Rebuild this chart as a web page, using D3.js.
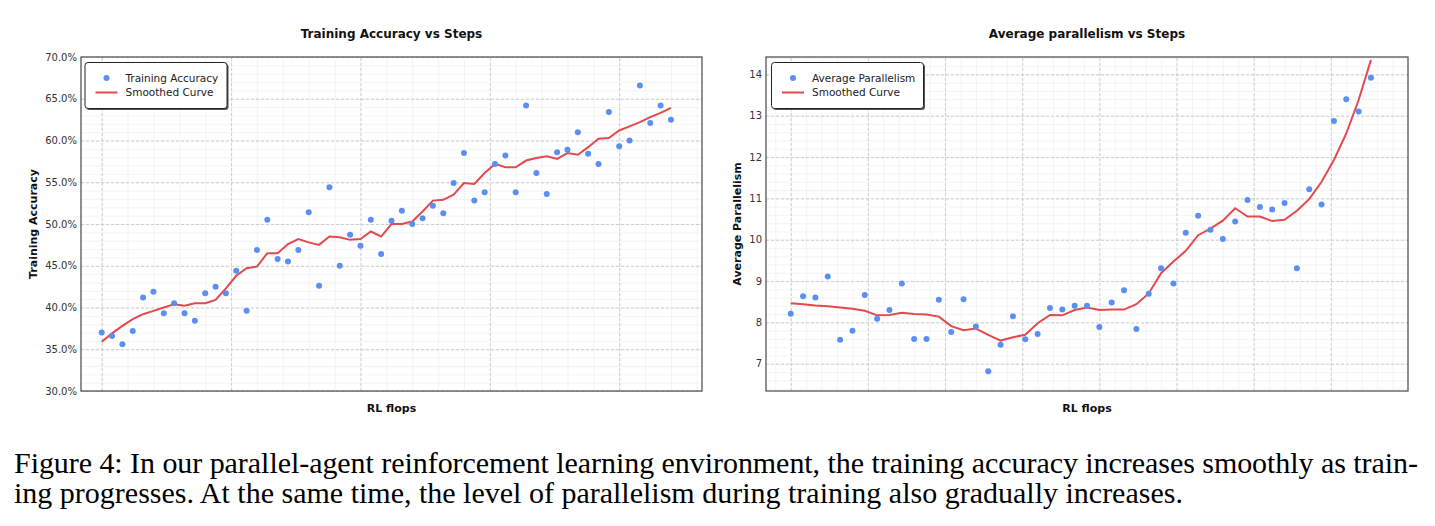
<!DOCTYPE html>
<html lang="en">
  <head>
    <meta charset="utf-8" />
    <title>Training Accuracy / Average parallelism vs Steps</title>
    <script src="https://d3js.org/d3.v7.min.js"></script>
    <style>
      body { margin: 0; background: #fff; }
      svg text { font-family: "DejaVu Sans", sans-serif; }
    </style>
  </head>
  <body>
    <div id="chart"></div>
  </body>
  <script>
    // values
    var accuracy = [37.0, 36.6, 35.6, 37.2, 41.2, 41.9, 39.3, 40.5, 39.3, 38.4,
                    41.7, 42.5, 41.7, 44.4, 39.6, 46.9, 50.5, 45.8, 45.5, 46.9,
                    51.4, 42.6, 54.4, 45.0, 48.7, 47.4, 50.5, 46.4, 50.4, 51.6,
                    50.0, 50.7, 52.2, 51.3, 54.9, 58.5, 52.8, 53.8, 57.2, 58.2,
                    53.8, 64.2, 56.1, 53.6, 58.6, 58.9, 61.0, 58.4, 57.2, 63.4,
                    59.3, 60.0, 66.6, 62.1, 64.2, 62.5];
    var accuracySmooth = [35.9, 36.9, 37.8, 38.6, 39.2, 39.6, 40.0, 40.4, 40.2, 40.5,
                          40.5, 40.9, 42.3, 43.8, 44.7, 44.9, 46.5, 46.5, 47.6, 48.2,
                          47.8, 47.5, 48.5, 48.4, 48.1, 48.2, 49.1, 48.5, 50.0, 50.0,
                          50.3, 51.5, 52.8, 52.9, 53.5, 54.9, 54.8, 56.1, 57.2, 56.8,
                          56.8, 57.6, 57.9, 58.1, 57.8, 58.5, 58.3, 59.2, 60.2, 60.3,
                          61.2, 61.7, 62.2, 62.8, 63.3, 63.9];
    var parallelism = [8.21, 8.63, 8.60, 9.11, 7.58, 7.80, 8.66, 8.09, 8.30, 8.94,
                       7.60, 7.60, 8.55, 7.77, 8.56, 7.90, 6.82, 7.46, 8.15, 7.59,
                       7.72, 8.35, 8.31, 8.40, 8.40, 7.89, 8.48, 8.78, 7.84, 8.69,
                       9.31, 8.94, 10.17, 10.58, 10.24, 10.02, 10.44, 10.96, 10.79, 10.73,
                       10.89, 9.31, 11.22, 10.85, 12.87, 13.40, 13.10, 13.92];
    var parallelismSmooth = [8.46, 8.44, 8.41, 8.39, 8.36, 8.33, 8.28, 8.17, 8.18, 8.23,
                             8.20, 8.19, 8.14, 7.91, 7.81, 7.85, 7.70, 7.56, 7.64, 7.70,
                             7.98, 8.18, 8.17, 8.30, 8.36, 8.30, 8.31, 8.31, 8.44, 8.70,
                             9.19, 9.47, 9.73, 10.11, 10.27, 10.46, 10.76, 10.56, 10.56, 10.45,
                             10.48, 10.70, 10.98, 11.40, 11.93, 12.57, 13.38, 14.35];
    var accuracyTicks = [30, 35, 40, 45, 50, 55, 60, 65, 70];
    var parallelismTicks = [7, 8, 9, 10, 11, 12, 13, 14];
    var captionLines = [
      "Figure 4: In our parallel-agent reinforcement learning environment, the training accuracy increases smoothly as train-",
      "ing progresses. At the same time, the level of parallelism during training also gradually increases."
    ];

    var W = 1435, H = 526;
    var blue = "#5b8ff5", red = "#e5484d";

    var svg = d3.select("#chart").append("svg")
                .attr("width", W)
                .attr("height", H);

    function drawPanel(cfg) {
      var n = cfg.values.length;
      var x = d3.scaleLinear().domain([-2, n + 2]).range([cfg.left, cfg.right]);
      var y = d3.scaleLinear().domain(cfg.yDomain).range([cfg.bottom, cfg.top]);
      var w = cfg.right - cfg.left, h = cfg.bottom - cfg.top;
      var g = svg.append("g");

      // minor grid
      var xMinor = d3.range(Math.ceil(-2 / cfg.xMinorStep) * cfg.xMinorStep, n + 2, cfg.xMinorStep);
      var yMinor = d3.range(Math.ceil(cfg.yDomain[0] / cfg.yMinorStep) * cfg.yMinorStep, cfg.yDomain[1], cfg.yMinorStep);
      g.append("g").attr("transform", "translate(0," + cfg.bottom + ")")
        .call(d3.axisBottom(x).tickValues(xMinor).tickSize(-h).tickFormat(""))
        .call(s => s.select(".domain").remove())
        .selectAll("line").attr("stroke", "#ececec").attr("stroke-width", 0.6);
      g.append("g").attr("transform", "translate(" + cfg.left + ",0)")
        .call(d3.axisLeft(y).tickValues(yMinor).tickSize(-w).tickFormat(""))
        .call(s => s.select(".domain").remove())
        .selectAll("line").attr("stroke", "#ececec").attr("stroke-width", 0.6);

      // major grid
      var xMajor = d3.range(0, n + 2, cfg.xMajorStep);
      g.append("g").attr("transform", "translate(0," + cfg.bottom + ")")
        .call(d3.axisBottom(x).tickValues(xMajor).tickSize(-h).tickFormat(""))
        .call(s => s.select(".domain").remove())
        .selectAll("line").attr("stroke", "#c4c4c4").attr("stroke-width", 0.8)
        .attr("stroke-dasharray", "3,2");
      g.append("g").attr("transform", "translate(" + cfg.left + ",0)")
        .call(d3.axisLeft(y).tickValues(cfg.ticks).tickSize(-w).tickFormat(""))
        .call(s => s.select(".domain").remove())
        .selectAll("line").attr("stroke", "#c4c4c4").attr("stroke-width", 0.8)
        .attr("stroke-dasharray", "3,2");

      // tick labels
      var yAxis = g.append("g").attr("transform", "translate(" + cfg.left + ",0)")
        .call(d3.axisLeft(y).tickValues(cfg.ticks).tickSize(0).tickPadding(4).tickFormat(cfg.fmt));
      yAxis.select(".domain").remove();
      yAxis.selectAll("text").attr("font-size", 10).attr("fill", "#333")
        .style("font-family", "DejaVu Sans");

      // smoothed curve
      var line = d3.line().x((d, i) => x(i)).y(d => y(d));
      g.append("path").datum(cfg.smooth)
        .attr("d", line)
        .attr("fill", "none")
        .attr("stroke", red)
        .attr("stroke-width", 2);

      // scatter
      g.append("g").selectAll("circle")
        .data(cfg.values)
        .enter().append("circle")
        .attr("cx", (d, i) => x(i))
        .attr("cy", d => y(d))
        .attr("r", 3)
        .attr("fill", blue);

      // frame
      g.append("rect")
        .attr("x", cfg.left).attr("y", cfg.top)
        .attr("width", w).attr("height", h)
        .attr("fill", "none").attr("stroke", "#555").attr("stroke-width", 1.3);

      // titles
      var cx = (cfg.left + cfg.right) / 2;
      g.append("text").attr("x", cx).attr("y", 37.5)
        .attr("text-anchor", "middle").attr("font-size", 12).attr("font-weight", "bold")
        .attr("fill", "#111").text(cfg.title);
      g.append("text").attr("x", cx).attr("y", 411.5)
        .attr("text-anchor", "middle").attr("font-size", 11).attr("font-weight", "bold")
        .attr("fill", "#111").text("RL flops");
      g.append("text")
        .attr("transform", "translate(" + cfg.yLabelX + "," + ((cfg.top + cfg.bottom) / 2) + ") rotate(-90)")
        .attr("text-anchor", "middle").attr("font-size", 11).attr("font-weight", "bold")
        .attr("fill", "#111").text(cfg.yLabel);

      // legend
      var lg = g.append("g").attr("transform", "translate(" + (cfg.left + cfg.legendDx) + ",62.5)");
      lg.append("rect").attr("x", 1.5).attr("y", 1.5)
        .attr("width", cfg.legendW).attr("height", 46).attr("rx", 3)
        .attr("fill", "#555");
      lg.append("rect").attr("width", cfg.legendW).attr("height", 46).attr("rx", 3)
        .attr("fill", "#fff").attr("stroke", "#222").attr("stroke-width", 1);
      lg.append("circle").attr("cx", 21.5).attr("cy", 15.5).attr("r", 3).attr("fill", blue);
      lg.append("line").attr("x1", 10.5).attr("x2", 32.5).attr("y1", 30).attr("y2", 30)
        .attr("stroke", red).attr("stroke-width", 2);
      lg.append("text").attr("x", 40.5).attr("y", 19.3).attr("font-size", 10.5)
        .attr("fill", "#222").text(cfg.legendLabel);
      lg.append("text").attr("x", 40.5).attr("y", 33.8).attr("font-size", 10.5)
        .attr("fill", "#222").text("Smoothed Curve");
    }

    drawPanel({
      values: accuracy, smooth: accuracySmooth, ticks: accuracyTicks,
      yDomain: [30, 70], fmt: d => d3.format(".1f")(d) + "%",
      left: 81, right: 702, top: 57, bottom: 391,
      xMajorStep: 12.5, xMinorStep: 2.5, yMinorStep: 1,
      title: "Training Accuracy vs Steps", yLabel: "Training Accuracy", yLabelX: 37,
      legendLabel: "Training Accuracy", legendDx: 4, legendW: 142
    });

    drawPanel({
      values: parallelism, smooth: parallelismSmooth, ticks: parallelismTicks,
      yDomain: [6.34, 14.42], fmt: d3.format("d"),
      left: 766, right: 1408, top: 57, bottom: 391,
      xMajorStep: 6.25, xMinorStep: 1.25, yMinorStep: 0.2,
      title: "Average parallelism vs Steps", yLabel: "Average Parallelism", yLabelX: 740.5,
      legendLabel: "Average Parallelism", legendDx: 5.5, legendW: 152
    });

    // caption: tall, horizontally compressed serif text as in the scanned figure
    var capSize = 30;
    var cap = svg.append("g");
    var l2 = cap.append("text").attr("x", 0).attr("y", 503)
      .attr("font-size", capSize).style("font-family", "Liberation Serif")
      .attr("fill", "#000").text(captionLines[1]);
    var sx = 1169 / l2.node().getComputedTextLength();
    cap.attr("transform", "translate(14,0) scale(" + sx + ",1)");
    cap.append("text").attr("x", 0).attr("y", 473)
      .attr("font-size", capSize).style("font-family", "Liberation Serif")
      .attr("fill", "#000")
      .attr("textLength", 1404 / sx).attr("lengthAdjust", "spacing")
      .text(captionLines[0]);
  </script>
</html>
